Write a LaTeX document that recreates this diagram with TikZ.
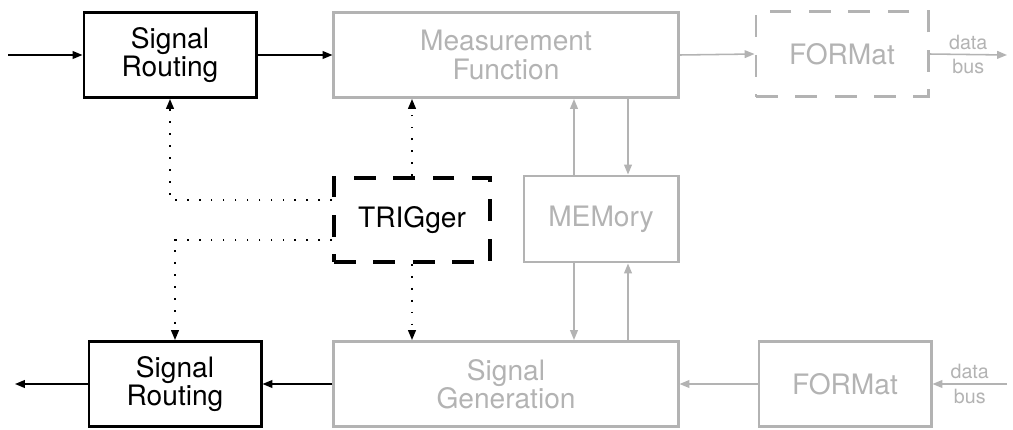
\documentclass[tikz,border=0pt]{standalone}
\usepackage{fontspec}
\setmainfont{TeX Gyre Heros}
\usetikzlibrary{arrows.meta, positioning}
\definecolor{faded}{HTML}{B3B3B3}

\begin{document}
\begin{tikzpicture}[
    x=0.025cm, y=-0.025cm,
    every node/.style={font=\fontsize{20}{20}\selectfont, align=center},
    blk/.style={draw, line width=2.1pt, minimum width=4.3cm, minimum height=2.125cm, inner sep=2pt},
    dim/.style={blk, draw=faded, text=faded},
    trigbox/.style={blk, line width=2.8pt, dash pattern=on 15.5pt off 12.5pt},
    arrow/.style={-{Triangle[length=7pt,width=5.5pt]}, line width=1.1pt},
    dimarrow/.style={arrow, faded},
    trig/.style={-{Triangle[length=7pt,width=5.5pt]}, line width=1.2pt, dash pattern=on 1.2pt off 7.3pt},
    buslabel/.style={font=\fontsize{14}{14}\selectfont, text=faded, inner sep=3pt},
]
\useasboundingbox (0,0) rectangle (1013,429);
% top row
\node[blk] (route1) at (170,55) {Signal\\Routing};
\node[dim, minimum width=8.6cm] (meas) at (506,55) {Measurement\\Function};
\node[dim, dash pattern=on 15.5pt off 12.5pt] (fmt1) at (842,54) {FORMat};
% middle row
\node[trigbox, minimum width=3.9cm, minimum height=2.1cm] (trigger) at (412,220) {TRIGger};
\node[dim, minimum width=3.85cm, minimum height=2.15cm] (mem) at (601,219) {MEMory};
% bottom row
\node[blk] (route2) at (175,384) {Signal\\Routing};
\node[dim, minimum width=8.6cm] (gen) at (506,384) {Signal\\Generation};
\node[dim] (fmt2) at (845,384) {FORMat};
\coordinate (in1) at (8,55);
\coordinate (bus1) at (1007,55);
\coordinate (out2) at (15,384);
\coordinate (bus2) at (1007,384);
% signal path
\draw[arrow] (in1) -- (route1.west);
\draw[arrow] (route1.east) -- (meas.west);
\draw[dimarrow] (meas.east) -- (fmt1.west);
\draw[dimarrow] (fmt1.east) -- node[buslabel, above] {data} node[buslabel, below] {bus} (bus1);
\draw[dimarrow] (bus2) -- node[buslabel, above] {data} node[buslabel, below] {bus} (fmt2.east);
\draw[dimarrow] (fmt2.west) -- (gen.east);
\draw[arrow] (gen.west) -- (route2.east);
\draw[arrow] (route2.west) -- (out2);
% memory
\draw[dimarrow] ([xshift=-0.675cm]mem.north) -- ([xshift=-0.675cm]mem.north |- meas.south);
\draw[dimarrow] ([xshift=0.675cm]mem.north |- meas.south) -- ([xshift=0.675cm]mem.north);
\draw[dimarrow] ([xshift=-0.675cm]mem.south) -- ([xshift=-0.675cm]mem.south |- gen.north);
\draw[dimarrow] ([xshift=0.675cm]mem.south |- gen.north) -- ([xshift=0.675cm]mem.south);
% trigger
\draw[trig] (trigger.north) -- (trigger.north |- meas.south);
\draw[trig] (trigger.south) -- (trigger.south |- gen.north);
\draw[trig] ([yshift=0.5cm]trigger.west) -| (route1.south);
\draw[trig] ([yshift=-0.5cm]trigger.west) -| (route2.north);
\end{tikzpicture}
\end{document}
